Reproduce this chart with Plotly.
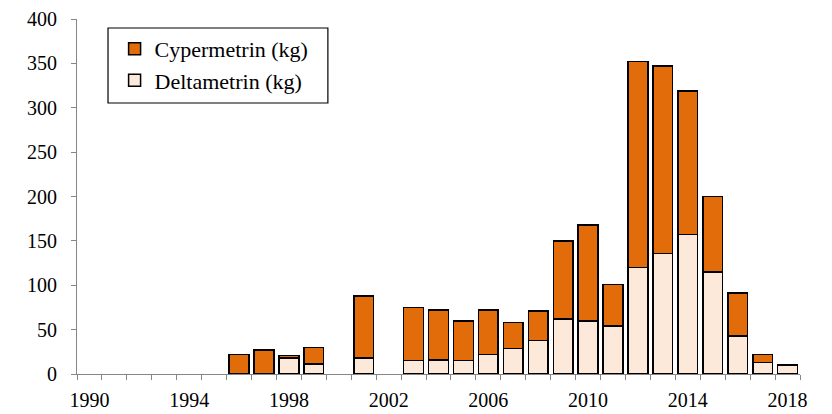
import plotly.graph_objects as go

years = list(range(1990, 2019))
total = {1996: 22, 1997: 27, 1998: 21, 1999: 30, 2001: 88, 2003: 75, 2004: 72, 2005: 60,
         2006: 72, 2007: 58, 2008: 71, 2009: 150, 2010: 168, 2011: 101, 2012: 352,
         2013: 347, 2014: 319, 2015: 200, 2016: 91, 2017: 22, 2018: 10}
delta = {1998: 18, 1999: 11, 2001: 18, 2003: 15, 2004: 16, 2005: 15, 2006: 22, 2007: 29,
         2008: 38, 2009: 62, 2010: 60, 2011: 54, 2012: 120, 2013: 136, 2014: 157,
         2015: 115, 2016: 43, 2017: 13, 2018: 10}

x_years = sorted(total.keys())
delta_vals = [delta.get(y, 0) for y in x_years]
cyper_vals = [total[y] - delta.get(y, 0) for y in x_years]

tick_years = [1990, 1994, 1998, 2002, 2006, 2010, 2014, 2018]
y_ticks = [0, 50, 100, 150, 200, 250, 300, 350, 400]

font_family = "Times New Roman, Liberation Serif, serif"
line = dict(color="black", width=1.5)

fig = go.Figure()
fig.add_trace(go.Bar(x=x_years, y=delta_vals, name="Deltametrin (kg)", legendgroup="d",
                     marker=dict(color="#FDE9D9", line=line), width=0.79))
fig.add_trace(go.Bar(x=x_years, y=cyper_vals, name="Cypermetrin (kg)", legendgroup="c",
                     marker=dict(color="#E36C0A", line=line), width=0.79))

fig.update_layout(
    barmode="stack",
    width=824, height=406,
    margin=dict(l=69, r=32, t=11, b=40, autoexpand=False),
    plot_bgcolor="white", paper_bgcolor="white",
    font=dict(family=font_family, size=20, color="black"),
    showlegend=True,
    legend=dict(x=0.052, y=0.975, xanchor="left", yanchor="top",
                borderwidth=0, bgcolor="rgba(0,0,0,0)",
                traceorder="reversed", font=dict(size=22),
                itemwidth=30, tracegroupgap=13),
    shapes=[dict(type="rect", xref="paper", yref="paper",
                 x0=0.0429, x1=0.347, y0=0.7634, y1=0.9746,
                 line=dict(color="black", width=1.2), fillcolor="rgba(0,0,0,0)")],
    xaxis=dict(range=[1989.5, 2018.5], tickvals=tick_years, ticks="",
               ticklabelstandoff=8,
               showline=True, linecolor="#868686", linewidth=1.2,
               showgrid=False, zeroline=False,
               minor=dict(tickvals=[y + 0.5 for y in range(1989, 2019)],
                          ticks="outside", ticklen=5, tickcolor="#868686",
                          showgrid=False)),
    yaxis=dict(range=[0, 400], tickvals=y_ticks, ticks="outside", ticklen=5,
               ticklabelstandoff=10,
               tickcolor="#868686", showline=True, linecolor="#868686",
               linewidth=1.2, showgrid=False, zeroline=False),
)

fig.write_html("out.html")
